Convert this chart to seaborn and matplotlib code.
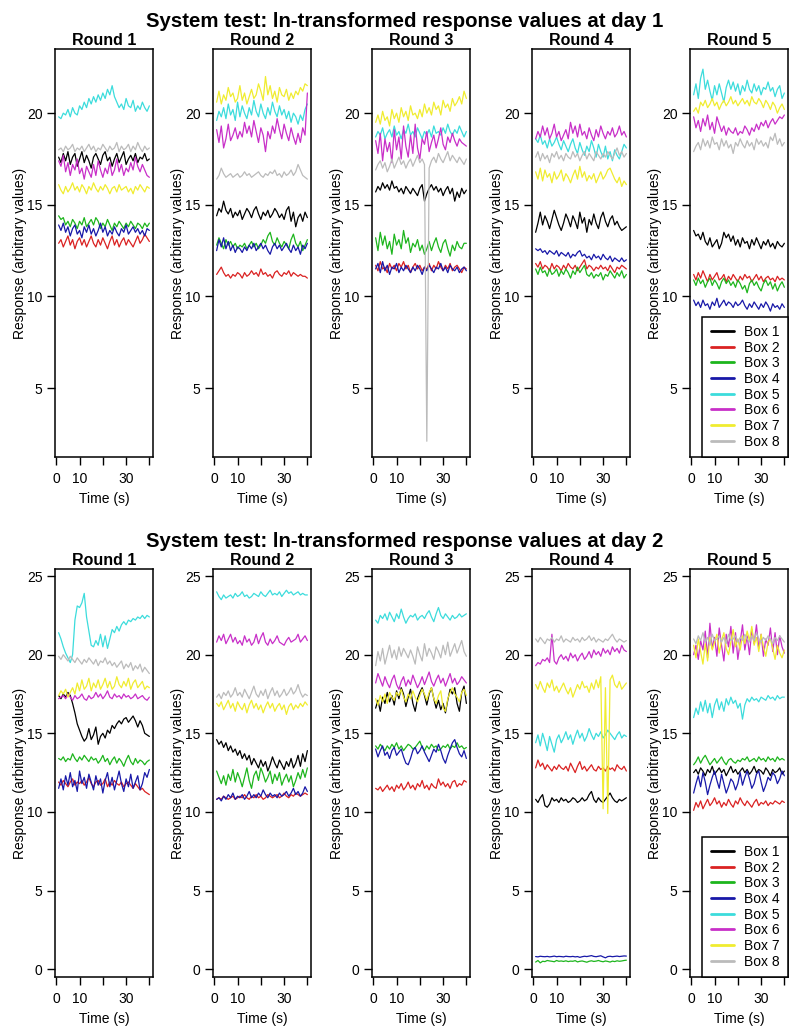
import matplotlib
matplotlib.use("Agg")
import matplotlib.pyplot as plt
from matplotlib.lines import Line2D
import pandas as pd
import seaborn as sns

# ---------------------------------------------------------------- data
time_s = list(range(1, 41))
boxes = [f"Box {i}" for i in range(1, 9)]
rounds = [f"Round {i}" for i in range(1, 6)]
box_colors = ["#000000", "#DA2222", "#1DB51D", "#1818A8",
              "#3CDCDC", "#C82FC8", "#F0EC30", "#BBBBBB"]

# Day 1 -- one list per box (Box 1 ... Box 8), 40 samples each
d1_r1 = [
    [17.6,17.3,17.8,17.4,17.9,17.2,17.6,17.8,17.1,17.5,17.9,17.3,17.7,17.4,17.0,17.6,17.8,17.5,17.2,17.7,
     17.9,17.4,17.6,17.1,17.5,17.8,17.3,17.6,17.9,17.2,17.5,17.7,17.4,17.8,17.3,17.6,17.5,17.8,17.4,17.5],
    [12.9,13.1,12.7,13.0,13.3,12.8,13.1,12.6,13.0,13.2,12.8,13.1,12.7,13.0,13.3,12.9,12.7,13.1,12.8,13.2,
     12.9,12.6,13.0,13.3,12.8,13.1,12.7,13.0,13.2,12.8,13.1,12.9,12.7,13.0,13.3,12.9,13.1,13.4,13.2,13.0],
    [14.4,14.2,14.3,13.9,14.1,13.8,14.2,14.0,13.7,14.1,13.9,14.3,13.8,14.0,14.2,13.9,14.3,14.1,13.7,14.0,
     13.8,14.2,13.9,13.6,14.0,13.8,14.1,13.9,13.7,14.0,13.8,14.1,13.9,13.7,14.0,13.9,13.7,14.0,13.8,14.0],
    [13.9,13.6,14.0,13.5,13.8,13.3,13.7,13.9,13.4,13.6,13.2,13.8,13.5,13.9,13.4,13.7,13.3,13.6,14.0,13.5,
     13.8,13.3,13.6,13.4,13.8,13.5,13.3,13.7,13.5,13.9,13.4,13.6,13.8,13.5,13.7,13.4,13.6,13.3,13.7,13.6],
    [19.8,19.7,20.0,19.9,20.2,19.8,20.3,20.0,19.9,20.4,20.2,20.6,20.3,20.8,20.5,20.9,20.6,21.0,20.7,21.1,
     20.8,21.3,21.0,21.5,20.9,20.6,20.3,20.5,20.2,20.8,20.4,20.3,20.7,20.1,20.4,20.2,20.6,20.3,20.1,20.4],
    [17.4,17.1,17.7,16.8,17.3,16.6,17.2,16.9,17.5,16.7,17.0,16.4,17.1,16.8,16.5,17.2,16.6,17.4,16.9,16.5,
     17.0,16.7,17.3,16.6,16.9,17.5,16.8,17.2,16.6,17.0,16.8,17.3,16.9,17.6,17.1,16.8,17.2,16.9,16.6,16.5],
    [16.1,15.8,15.6,16.0,15.7,15.9,16.2,15.8,16.0,15.7,16.1,15.9,15.6,16.0,15.8,16.2,15.9,15.7,16.0,15.8,
     16.1,15.9,15.6,15.9,16.0,15.7,16.1,15.8,15.9,16.0,15.7,15.9,15.6,16.0,15.8,16.1,15.9,15.7,16.0,15.9],
    [18.0,18.1,17.9,18.2,18.0,18.1,18.3,17.9,18.1,18.0,18.2,17.9,18.1,18.3,18.0,18.2,17.9,18.1,18.0,18.3,
     18.1,17.9,18.2,18.0,18.1,18.4,17.9,18.2,18.0,18.1,18.3,17.9,18.2,18.0,18.4,18.1,17.9,18.2,18.0,18.1],
]
d1_r2 = [
    [14.4,14.8,14.6,15.2,14.7,14.5,14.8,14.3,14.6,14.4,14.7,14.2,14.5,14.8,14.6,14.3,14.7,14.9,14.5,14.2,
     14.6,14.4,14.7,14.3,14.5,14.8,14.6,14.3,14.5,14.2,14.7,14.9,14.1,14.6,13.8,14.3,14.5,14.1,14.6,14.3],
    [11.2,11.4,11.6,11.3,11.1,11.2,11.0,11.2,11.1,11.3,11.2,11.0,11.3,11.1,11.2,11.4,11.2,11.3,11.1,11.5,
     11.2,11.3,11.1,11.2,11.0,11.3,11.4,11.2,11.1,11.3,11.2,11.4,11.1,11.3,11.2,11.1,11.2,11.1,11.1,11.0],
    [12.8,13.2,12.9,12.6,13.1,12.8,13.0,12.7,12.9,12.6,12.8,12.7,12.9,12.6,12.8,13.0,12.7,12.9,12.6,12.8,
     13.1,12.9,13.3,13.5,13.0,12.8,13.2,12.9,12.7,13.0,12.8,12.6,13.1,13.4,12.9,12.7,13.0,12.5,12.8,13.1],
    [12.5,13.1,12.7,13.2,12.6,13.0,12.5,12.8,12.4,12.7,12.6,12.4,12.7,12.5,12.8,12.6,12.9,12.5,12.7,12.9,
     12.6,12.8,12.5,12.3,12.7,12.9,12.6,12.8,12.5,12.7,12.9,12.6,12.4,12.8,12.5,12.7,12.3,12.8,12.6,12.9],
    [19.6,20.1,19.8,20.3,19.7,20.5,19.9,20.2,19.6,20.6,19.8,20.4,20.0,19.7,20.3,19.9,20.7,20.1,19.8,20.5,
     20.0,19.7,20.3,19.9,20.6,20.1,19.8,20.4,19.9,20.2,19.7,20.1,19.5,20.0,19.8,19.4,19.9,19.6,20.2,20.5],
    [19.1,18.4,19.3,18.1,18.6,19.4,18.5,18.8,19.2,18.6,19.0,18.7,19.5,18.9,19.3,18.7,19.6,19.0,18.4,19.2,
     18.8,17.9,19.0,18.6,19.3,18.9,19.7,19.1,18.6,19.4,18.9,18.5,19.2,18.7,18.3,18.9,18.4,19.2,18.8,21.1],
    [20.6,21.2,20.5,21.0,20.7,21.4,20.9,21.1,20.6,20.8,21.5,20.7,21.1,20.5,20.9,21.3,20.8,21.0,21.6,21.2,
     20.7,22.0,21.0,21.5,20.8,21.2,20.6,21.4,21.0,20.9,21.3,20.7,21.1,20.8,21.2,21.0,21.4,21.2,21.6,21.5],
    [16.4,16.6,17.0,16.7,16.5,16.6,16.7,16.5,16.6,16.7,16.5,16.6,16.8,16.6,16.7,16.5,16.6,16.7,16.8,16.6,
     16.5,16.7,16.6,16.8,16.7,16.9,16.6,16.7,16.5,16.8,16.6,16.7,16.9,16.6,16.8,17.2,16.9,16.6,16.5,16.4],
]
d1_r3 = [
    [15.7,16.0,15.8,16.2,15.9,16.1,15.8,16.3,15.9,16.0,15.7,15.9,15.6,16.0,15.8,15.6,15.9,15.7,15.5,15.9,
     16.1,15.2,15.6,15.9,16.1,15.8,16.0,15.7,15.9,15.5,15.8,16.0,15.6,15.9,15.2,15.7,15.4,15.9,15.6,15.8],
    [11.7,11.4,11.9,11.5,11.6,11.3,11.8,11.5,11.7,11.4,11.8,11.6,11.9,11.5,11.7,11.3,11.6,11.8,11.5,11.7,
     11.4,11.6,11.5,11.8,11.4,11.7,11.5,11.9,11.6,11.4,11.7,11.5,11.8,11.4,11.6,11.7,11.5,11.3,11.6,11.5],
    [13.2,12.5,13.5,12.8,13.3,12.6,13.0,12.3,13.4,12.8,13.1,12.6,13.6,12.9,13.2,12.4,12.9,12.7,13.1,12.5,
     12.8,12.3,12.6,13.0,12.5,12.9,13.2,12.7,12.4,12.9,13.1,12.6,12.2,12.8,12.5,13.0,12.7,12.6,12.9,12.9],
    [11.5,11.8,11.3,11.9,11.4,11.7,11.2,11.6,11.5,11.8,11.3,11.6,11.4,11.7,11.5,11.3,11.6,11.4,11.7,11.5,
     11.2,11.6,11.4,11.7,11.5,11.3,11.6,11.5,11.8,11.4,11.6,11.3,11.7,11.5,11.4,11.6,11.3,11.5,11.6,11.4],
    [18.7,19.0,18.8,19.2,18.6,18.9,19.1,18.7,19.3,18.8,19.0,18.6,19.1,18.9,19.4,18.8,19.0,18.7,19.2,18.9,
     18.6,19.0,18.8,19.1,18.7,19.3,18.9,19.0,18.8,19.2,18.9,19.4,19.0,18.8,19.1,18.9,19.3,19.0,18.7,19.0],
    [18.5,17.8,18.9,17.4,18.6,17.9,18.4,17.3,19.1,18.0,18.7,17.5,19.3,18.2,17.6,18.8,17.8,19.4,18.1,17.5,
     18.6,18.3,19.0,17.9,18.4,18.8,18.1,18.6,19.2,18.3,18.0,18.7,18.4,18.9,18.5,18.2,18.6,18.4,18.3,18.2],
    [19.5,19.9,19.4,20.1,19.6,19.8,19.3,20.2,19.7,20.0,19.5,20.3,19.8,20.1,19.6,20.4,19.9,20.0,19.7,20.2,
     19.8,20.5,20.0,20.3,19.9,20.6,20.2,20.4,19.9,20.7,20.3,20.5,20.1,20.8,20.4,20.6,20.9,20.5,21.2,20.8],
    [16.9,17.2,17.4,17.0,17.3,16.8,17.1,17.5,17.0,17.3,17.6,17.2,17.4,17.0,17.3,17.5,17.1,17.4,17.7,17.3,
     17.5,17.2,2.1,17.0,17.4,17.6,17.3,17.8,17.5,17.3,17.6,17.9,17.4,17.7,17.5,17.3,17.6,17.4,17.2,17.5],
]
d1_r4 = [
    [13.5,14.0,14.6,13.9,14.4,14.1,13.7,14.2,14.7,14.3,13.9,13.6,14.0,14.5,14.2,13.8,14.4,14.1,13.7,14.6,
     14.0,14.3,13.5,14.2,13.9,14.5,14.0,13.7,14.3,14.6,14.1,13.8,14.2,14.4,13.9,14.1,13.8,13.6,13.7,13.8],
    [11.8,11.6,11.9,11.5,11.7,11.6,11.4,11.8,11.5,11.7,11.6,11.4,11.7,11.5,11.8,11.6,11.5,11.7,11.4,11.6,
     11.8,12.0,11.5,11.7,11.6,11.4,11.6,11.5,11.7,11.5,11.6,11.4,11.7,11.5,11.3,11.6,11.5,11.7,11.6,11.5],
    [11.5,11.2,11.6,11.3,11.4,11.1,11.5,11.2,11.3,11.5,11.1,11.4,11.2,11.5,11.3,11.0,11.4,11.2,11.6,11.3,
     11.5,11.7,11.2,11.1,11.3,11.0,11.2,11.1,11.3,10.9,11.2,11.1,11.4,11.2,11.0,11.3,11.1,11.4,11.0,11.2],
    [12.6,12.5,12.6,12.4,12.5,12.3,12.5,12.4,12.3,12.5,12.2,12.4,12.3,12.2,12.4,12.1,12.3,12.2,12.4,12.5,
     12.2,12.3,12.1,12.2,12.0,12.3,12.1,12.2,12.0,12.3,12.1,12.0,12.2,11.9,12.1,12.0,11.9,12.1,11.9,12.0],
    [18.6,18.4,18.8,18.3,18.5,18.1,18.6,18.2,18.4,18.7,18.3,18.0,18.5,18.2,17.9,18.3,18.6,18.1,17.8,18.4,
     18.0,17.7,18.2,17.9,18.5,18.1,17.6,18.3,17.9,17.6,18.2,17.5,17.9,17.4,18.0,17.7,17.5,17.9,18.3,18.1],
    [18.6,19.0,18.7,19.3,18.8,19.2,18.6,18.9,19.4,18.7,19.0,18.5,18.8,19.1,18.6,19.5,18.9,19.3,18.7,19.4,
     18.8,19.0,18.6,19.2,18.8,18.5,19.1,18.7,19.3,18.9,18.6,19.0,18.8,19.2,18.7,18.9,19.3,18.8,19.0,18.7],
    [16.8,16.4,17.0,16.3,16.9,16.5,16.7,16.2,16.8,16.4,16.6,16.9,16.3,16.7,16.5,16.2,16.6,16.9,16.4,17.1,
     16.5,16.8,16.3,16.6,16.4,16.7,16.2,16.5,16.8,16.4,16.6,16.9,17.0,16.7,16.4,16.2,16.5,16.0,16.3,16.1],
    [17.6,17.9,17.4,17.8,17.5,17.7,17.3,17.8,17.6,17.9,17.5,17.7,17.4,17.8,17.6,17.5,17.9,17.6,17.8,17.4,
     17.7,17.9,17.5,17.8,17.6,17.4,17.9,17.7,17.5,17.8,17.6,17.9,17.7,17.5,17.8,18.1,17.7,17.9,17.6,17.8],
]
d1_r5 = [
    [13.6,13.3,13.4,13.1,13.5,13.0,12.8,13.2,12.7,12.9,13.1,12.6,12.9,13.5,13.2,13.4,13.0,13.3,12.8,13.1,
     12.7,13.2,12.9,13.0,12.6,13.1,12.8,13.2,12.9,12.6,13.0,12.8,13.1,12.7,12.9,12.6,13.0,12.8,12.7,12.9],
    [11.2,10.9,11.3,11.0,11.4,11.1,10.8,11.2,10.9,11.1,11.3,10.9,11.0,11.2,10.8,11.1,10.9,11.2,11.0,10.8,
     11.1,10.9,11.2,11.0,11.1,10.8,11.0,11.2,10.9,11.1,10.8,11.0,11.1,10.9,11.0,10.8,11.1,10.9,11.0,10.9],
    [10.9,10.6,11.0,10.7,10.9,10.5,10.8,11.0,10.6,10.9,10.7,10.4,10.8,11.0,10.7,10.9,10.6,10.8,10.5,10.9,
     10.7,10.4,10.6,10.2,10.7,10.9,10.6,10.8,10.5,10.3,10.7,10.9,10.6,10.8,10.4,10.7,10.3,10.6,10.8,10.5],
    [9.8,9.5,9.7,9.4,9.8,9.5,9.6,9.3,9.7,9.5,9.9,9.4,9.6,9.8,9.5,9.7,9.6,9.4,9.7,9.5,
     9.6,9.8,9.5,9.3,9.6,9.4,9.7,9.5,9.3,9.6,9.4,9.7,9.5,9.2,9.6,9.4,9.5,9.3,9.6,9.4],
    [21.0,21.6,20.8,21.9,22.4,21.3,21.8,21.2,20.7,21.5,21.0,21.6,21.1,20.6,21.4,21.8,21.3,21.7,21.2,21.6,
     21.0,21.5,21.2,21.8,21.3,21.1,21.6,21.2,21.5,21.0,21.4,21.3,21.7,21.2,21.4,20.9,21.3,21.5,20.8,21.1],
    [19.8,19.2,19.6,19.0,19.7,19.3,19.9,19.1,19.5,18.9,19.8,19.4,19.0,19.3,18.8,19.2,19.0,18.9,19.2,18.8,
     19.0,18.9,19.3,19.1,18.8,19.2,19.0,19.4,19.1,19.5,19.3,19.6,19.2,19.5,19.7,19.4,19.6,19.8,19.7,19.9],
    [20.1,20.3,20.0,20.6,20.4,20.7,20.3,20.5,20.8,20.4,20.6,20.2,20.5,20.7,20.4,20.6,20.9,20.5,20.7,20.4,
     20.6,20.8,20.5,20.7,20.4,20.9,20.6,20.5,20.8,20.6,20.3,20.7,20.5,20.2,20.6,20.4,20.0,20.3,20.5,20.2],
    [17.9,18.2,18.4,18.0,18.6,18.2,18.5,18.1,18.7,18.3,18.4,18.0,18.6,18.2,18.5,18.1,18.3,17.8,18.4,18.2,
     18.6,18.3,18.1,18.5,18.2,18.4,18.0,18.6,18.3,18.5,18.2,18.4,18.1,18.7,18.5,18.9,18.3,18.6,18.2,18.4],
]

# Day 2
d2_r1 = [
    [17.4,17.2,17.5,17.3,17.6,17.4,16.9,16.3,15.6,15.2,14.8,14.5,14.7,15.3,14.6,14.9,15.4,14.3,14.8,15.0,
     14.7,15.2,15.0,15.5,15.3,15.6,15.8,15.6,15.9,16.0,15.7,15.9,16.1,15.8,15.4,15.8,15.5,15.0,14.9,14.8],
    [11.9,11.7,12.0,11.8,11.6,11.9,12.1,11.7,11.9,11.8,12.0,11.7,11.9,12.2,11.8,11.6,11.9,12.0,11.7,11.8,
     12.1,11.6,11.9,11.7,12.0,11.8,11.7,11.9,11.6,11.8,11.9,11.7,11.5,11.8,11.6,11.4,11.5,11.3,11.2,11.1],
    [13.4,13.3,13.5,13.2,13.4,13.3,13.7,13.4,13.2,13.5,13.3,13.6,13.4,13.2,13.5,13.3,13.4,13.1,13.3,13.6,
     13.2,13.4,13.0,13.3,13.5,13.1,13.4,13.2,12.9,13.3,13.6,13.2,13.0,13.4,13.1,13.3,13.2,13.0,13.2,13.3],
    [11.5,12.1,11.4,12.3,11.7,12.5,11.6,12.0,11.3,12.6,11.8,12.2,11.5,12.4,11.9,11.4,12.3,11.7,12.1,11.2,
     12.0,12.5,11.6,12.2,11.4,12.0,12.6,11.8,11.3,12.1,11.6,12.4,11.5,11.9,12.3,11.4,11.8,12.5,12.2,12.7],
    [21.4,21.0,20.5,20.1,19.8,19.5,20.0,22.2,23.1,23.0,23.3,23.9,22.4,21.5,20.6,20.5,20.9,20.6,21.3,20.5,
     21.2,20.4,21.0,21.6,21.4,21.8,21.5,21.9,22.1,21.9,22.2,22.1,22.3,22.2,22.4,22.3,22.5,22.3,22.5,22.4],
    [17.2,17.3,17.4,17.2,17.5,17.3,17.1,17.4,17.2,17.3,17.5,17.2,17.1,17.4,17.2,17.3,17.6,17.3,17.5,17.2,
     17.4,17.7,17.3,17.2,17.5,17.3,17.4,17.2,17.5,17.3,17.4,17.2,17.3,17.5,17.2,17.3,17.4,17.2,17.1,17.3],
    [17.4,17.7,17.5,17.8,17.3,17.6,17.9,17.5,18.2,17.7,18.4,17.8,18.0,18.5,17.7,18.2,17.9,18.4,17.8,18.1,
     18.5,17.9,18.3,17.8,18.0,18.6,18.1,17.9,18.3,18.0,18.5,17.8,18.2,18.4,17.9,18.1,18.3,17.8,18.0,17.9],
    [19.9,19.7,20.0,19.8,19.6,19.9,19.7,19.5,19.8,19.6,19.4,19.7,19.5,19.8,19.6,19.4,19.7,19.3,19.6,19.5,
     19.8,19.4,19.6,19.3,19.5,19.2,19.4,19.6,19.1,19.4,19.2,19.5,19.0,19.3,19.1,19.4,18.9,19.2,19.0,18.8],
]
d2_r2 = [
    [14.6,14.3,14.5,14.1,14.4,13.9,14.2,13.8,14.0,13.6,13.9,13.4,13.7,13.3,13.6,13.0,13.4,13.1,12.8,13.3,
     12.9,13.2,12.6,13.0,13.5,13.1,12.8,13.3,13.0,12.7,13.2,12.9,13.4,12.8,13.1,13.6,12.9,13.7,13.2,13.9],
    [10.8,10.9,10.8,11.0,10.9,10.8,10.9,11.0,10.8,10.9,11.0,10.9,11.1,10.9,10.8,11.0,10.9,11.1,10.9,11.0,
     10.8,10.9,11.1,11.0,10.9,11.0,11.1,10.9,11.0,11.2,11.0,10.9,11.1,11.0,11.2,11.1,11.0,11.1,11.2,11.1],
    [12.6,12.2,11.8,12.3,11.7,12.4,12.0,12.7,11.9,12.5,12.1,11.6,12.2,12.8,12.0,11.5,12.3,12.6,12.0,12.8,
     12.4,11.9,12.2,12.6,11.8,12.4,12.0,12.5,11.7,12.1,12.4,11.9,12.3,11.6,12.0,12.5,12.1,12.7,12.2,12.8],
    [10.8,10.9,10.7,11.0,10.8,11.1,10.9,11.2,10.8,11.0,10.9,11.1,10.8,11.0,11.3,10.9,11.1,10.9,11.2,11.0,
     11.4,11.1,10.9,11.2,11.0,11.1,10.9,11.2,11.0,11.1,11.3,11.0,11.2,11.5,11.1,11.3,11.0,11.2,11.6,11.3],
    [24.0,23.7,23.5,23.8,23.6,23.7,23.8,23.6,23.9,23.7,23.8,24.0,23.7,23.8,23.6,23.7,23.9,23.8,23.7,24.0,
     23.8,23.7,23.9,24.1,23.8,23.9,23.8,24.0,23.7,23.9,24.1,23.9,24.0,23.8,23.9,24.0,23.8,23.9,23.8,23.8],
    [20.8,21.2,20.9,21.3,20.7,21.0,21.3,20.8,21.1,20.7,20.9,20.6,21.2,20.8,21.0,20.6,20.8,21.3,20.7,21.1,
     21.4,20.8,20.6,21.0,20.7,20.9,21.2,20.8,20.7,20.6,20.9,21.1,20.8,20.9,21.0,21.3,20.8,21.0,21.2,20.9],
    [16.9,16.7,17.0,16.5,16.8,17.1,16.6,16.9,16.4,17.0,16.7,16.5,16.9,16.3,16.8,17.1,16.6,16.9,16.5,16.8,
     16.3,16.7,17.0,16.6,16.9,16.4,16.7,16.9,16.5,16.8,16.2,16.7,16.9,16.5,16.8,16.6,16.9,16.7,17.0,16.8],
    [17.3,17.5,17.2,17.6,17.4,17.7,17.3,17.5,17.9,17.4,17.6,17.3,17.8,17.5,17.2,17.6,18.0,17.5,17.3,17.7,
     17.4,17.8,17.2,17.6,17.9,17.4,17.7,17.3,17.5,17.8,17.4,17.6,17.9,17.5,17.7,18.1,17.6,17.3,17.5,17.4],
]
d2_r3 = [
    [16.6,17.1,16.4,17.3,16.9,17.6,17.0,17.4,16.8,17.7,17.2,17.9,17.5,16.7,17.3,17.8,16.9,16.4,17.2,17.6,
     17.9,17.4,16.8,17.5,17.9,17.2,16.6,17.1,16.5,16.9,16.3,17.1,17.8,17.5,17.9,16.9,16.4,17.6,18.0,16.9],
    [11.5,11.4,11.6,11.3,11.5,11.7,11.4,11.6,11.3,11.7,11.5,11.8,11.4,11.6,11.9,11.5,11.7,11.4,11.8,11.6,
     12.0,11.5,11.7,11.4,11.8,11.6,11.5,12.1,11.7,11.9,11.6,11.8,11.5,11.9,12.0,11.6,11.8,11.7,12.0,11.9],
    [14.2,14.0,14.3,14.1,13.9,14.2,14.0,14.3,14.1,14.4,14.0,14.2,13.9,14.1,14.3,14.2,14.0,14.1,14.3,14.5,
     14.1,13.9,14.2,14.0,14.3,14.1,14.2,13.9,14.0,14.2,14.1,14.3,14.0,14.2,14.1,14.4,14.1,14.2,14.0,14.1],
    [14.0,13.5,13.9,14.2,13.6,13.8,13.4,13.9,14.1,13.6,13.8,14.0,13.5,13.1,13.0,13.4,13.9,14.1,13.7,13.9,
     14.2,13.8,13.5,13.2,13.6,14.0,13.8,14.3,13.9,13.4,13.1,13.6,14.0,14.4,14.6,14.1,13.7,13.5,13.9,13.4],
    [22.2,22.0,22.5,22.3,22.6,22.2,22.7,22.4,22.1,22.6,22.3,22.9,22.4,22.0,22.3,22.5,22.4,22.6,22.2,22.4,
     22.5,22.3,22.6,22.8,22.4,22.1,22.6,23.0,22.5,22.3,22.6,22.4,22.2,22.5,22.3,22.4,22.6,22.4,22.5,22.6],
    [18.2,18.8,18.4,18.0,18.6,18.2,17.9,18.4,18.7,18.1,17.8,18.3,18.6,18.0,18.4,18.1,18.7,18.3,17.9,18.2,
     18.6,18.1,18.5,18.9,18.3,18.0,18.4,18.7,18.2,18.5,18.0,18.4,18.8,18.2,18.5,18.1,18.3,18.6,18.4,18.2],
    [17.2,16.8,17.4,17.0,17.5,16.9,17.6,17.3,17.1,17.6,17.4,17.8,17.3,17.0,17.5,17.2,17.7,17.3,17.0,17.4,
     17.8,17.5,17.1,17.6,17.9,17.2,16.9,17.4,17.7,16.6,16.4,17.2,17.6,17.9,17.5,17.3,17.0,17.6,17.8,17.4],
    [19.3,20.2,19.6,20.4,19.4,20.0,20.6,19.8,20.3,19.7,20.5,19.9,20.4,20.1,19.8,20.3,19.9,19.4,20.5,20.0,
     19.6,20.7,19.9,20.4,20.1,19.7,20.5,20.2,19.8,20.6,20.0,20.8,19.9,20.3,20.7,20.1,20.5,20.9,20.2,19.9],
]
d2_r4 = [
    [10.8,10.6,10.9,11.1,10.4,10.3,10.5,10.9,10.7,10.8,10.6,10.9,10.7,10.8,10.6,10.7,10.9,10.8,10.6,10.7,
     10.9,10.7,10.8,11.1,11.3,10.8,10.6,10.9,10.7,10.6,10.8,11.0,11.2,10.9,10.7,10.6,10.8,10.7,10.8,10.9],
    [12.8,13.3,12.9,13.1,12.7,13.0,12.8,12.6,12.9,12.7,13.0,12.8,12.7,12.9,12.6,13.1,12.8,12.5,12.9,13.2,
     12.7,12.9,12.6,12.8,13.0,12.7,12.6,12.9,12.7,12.8,12.6,12.9,12.7,12.8,12.6,13.0,12.8,12.7,12.9,12.6],
    [0.45,0.55,0.40,0.50,0.48,0.55,0.52,0.50,0.47,0.55,0.50,0.52,0.49,0.53,0.48,0.51,0.50,0.54,0.46,0.50,
     0.52,0.48,0.44,0.50,0.53,0.49,0.51,0.55,0.50,0.47,0.52,0.49,0.45,0.51,0.48,0.53,0.50,0.52,0.55,0.57],
    [0.80,0.78,0.82,0.80,0.79,0.81,0.78,0.80,0.83,0.79,0.81,0.80,0.78,0.82,0.80,0.79,0.81,0.78,0.80,0.75,
     0.79,0.82,0.80,0.83,0.86,0.81,0.79,0.82,0.85,0.78,0.72,0.80,0.82,0.79,0.81,0.83,0.80,0.82,0.84,0.83],
    [14.4,14.9,14.2,15.0,14.5,13.9,14.8,14.3,13.8,14.6,14.9,14.4,14.7,15.1,14.6,14.9,14.3,14.8,15.2,14.7,
     15.0,14.5,14.8,15.3,14.9,14.6,15.0,14.8,15.1,14.7,14.9,15.2,15.0,14.8,14.6,14.9,15.1,14.7,14.9,14.8],
    [19.3,19.5,19.4,19.7,19.6,19.8,19.5,21.3,19.6,19.4,19.8,20.0,19.7,19.9,19.6,20.1,19.8,20.0,19.6,19.9,
     20.1,19.7,19.9,20.2,19.8,20.3,20.0,20.2,19.9,20.4,20.1,20.3,20.0,20.5,20.2,20.4,20.1,20.6,20.3,20.2],
    [18.1,17.8,18.3,17.9,17.6,18.2,17.9,18.4,17.7,18.0,17.6,17.9,18.2,17.8,17.5,17.9,17.3,17.7,18.1,17.8,
     18.3,17.9,18.0,17.6,18.2,17.8,18.4,17.9,18.6,10.2,17.9,9.9,18.4,18.7,18.1,17.9,18.3,17.8,18.0,18.2],
    [21.0,20.8,21.1,20.9,20.7,21.0,20.9,21.1,20.8,21.0,20.9,21.2,20.8,21.0,20.9,20.8,21.1,20.9,21.0,20.8,
     21.1,20.9,21.0,21.2,20.9,21.1,20.8,21.0,20.9,20.8,21.0,20.9,21.1,21.3,21.0,20.8,21.0,20.9,20.8,20.9],
]
d2_r5 = [
    [12.5,12.7,12.4,12.8,12.6,12.3,12.7,12.5,12.9,12.4,12.6,12.8,12.5,12.7,12.3,12.6,12.9,12.5,12.7,12.4,
     12.6,12.8,12.5,12.7,12.4,12.6,12.9,12.5,12.7,12.6,12.4,12.8,12.6,12.3,12.7,12.5,12.6,12.8,12.4,12.6],
    [10.1,10.6,10.3,10.7,10.2,10.5,10.8,10.4,10.6,10.9,10.5,10.7,10.3,10.6,10.4,10.8,10.5,10.3,10.7,10.5,
     10.9,10.6,10.4,10.7,10.5,10.3,10.6,10.8,10.4,10.6,10.5,10.7,10.4,10.6,10.5,10.7,10.6,10.5,10.7,10.6],
    [13.0,13.2,13.5,13.1,13.4,13.6,13.3,13.0,13.2,13.4,13.1,13.3,13.5,13.2,13.0,13.3,13.4,13.2,13.1,13.3,
     13.2,13.4,13.3,13.5,13.2,13.3,13.4,13.2,13.5,13.3,13.4,13.2,13.5,13.3,13.4,13.2,13.5,13.3,13.4,13.3],
    [11.2,11.8,12.3,11.6,12.5,11.9,11.1,11.7,12.2,12.6,12.0,11.5,12.4,11.8,11.2,11.6,12.1,11.9,11.4,11.8,
     12.5,11.7,12.2,12.6,12.1,11.5,11.8,12.4,12.6,11.9,11.3,11.7,12.2,12.0,12.5,12.3,11.8,12.1,12.6,12.3],
    [16.0,16.6,16.2,17.0,16.4,17.1,16.3,16.9,16.0,16.8,17.2,16.5,17.0,16.4,17.2,16.8,17.3,16.9,17.1,16.6,
     16.9,15.9,16.8,17.2,17.0,17.3,17.1,17.2,17.0,17.3,17.2,17.1,17.4,17.2,17.3,17.1,17.4,17.2,17.3,17.3],
    [20.0,20.6,19.7,20.9,20.3,21.5,19.8,22.0,20.4,21.1,19.9,21.7,20.6,19.6,21.3,20.5,21.8,20.1,21.4,19.7,
     20.8,21.9,20.3,21.2,20.0,21.6,20.7,21.9,20.4,21.3,19.9,21.0,20.6,21.7,20.2,21.4,20.0,21.2,20.5,20.1],
    [20.6,19.8,21.0,20.2,19.4,20.7,19.6,21.1,20.3,20.8,21.3,20.1,20.9,21.4,20.4,20.0,20.8,21.6,20.5,21.0,
     20.3,21.2,20.7,21.5,20.9,21.8,20.6,21.1,20.2,21.3,20.5,19.9,20.8,21.0,20.4,19.7,20.6,20.1,19.8,20.3],
    [21.0,20.7,21.2,20.9,21.4,20.8,21.1,20.6,21.3,20.9,21.0,21.2,20.8,21.1,20.7,21.3,20.9,21.0,21.2,20.8,
     21.1,20.9,21.3,21.0,20.8,21.2,20.9,21.4,21.0,20.8,21.1,20.9,21.2,21.0,20.7,21.1,20.9,21.2,21.0,20.8],
]

day1_panels = [d1_r1, d1_r2, d1_r3, d1_r4, d1_r5]
day2_panels = [d2_r1, d2_r2, d2_r3, d2_r4, d2_r5]
day1_yticks = [5, 10, 15, 20]
day2_yticks = [0, 5, 10, 15, 20, 25]
x_ticks = [0, 10, 20, 30, 40]
x_tick_labels = ["0", "10", "", "30", ""]


def long_frame(series_by_box):
    rows = []
    for box, values in zip(boxes, series_by_box):
        for t, v in zip(time_s, values):
            rows.append((t, v, box))
    return pd.DataFrame(rows, columns=["Time", "Response", "Box"])


# ---------------------------------------------------------------- style
sns.set_theme(style="ticks")
plt.rcParams["font.family"] = ["Liberation Sans", "DejaVu Sans"]
plt.rcParams["text.color"] = "black"
plt.rcParams["axes.labelcolor"] = "black"
plt.rcParams["axes.edgecolor"] = "black"
plt.rcParams["axes.linewidth"] = 1.1
plt.rcParams["xtick.color"] = "black"
plt.rcParams["ytick.color"] = "black"
plt.rcParams["xtick.labelcolor"] = "black"
plt.rcParams["ytick.labelcolor"] = "black"

W, H = 790, 1027
fig = plt.figure(figsize=(W / 100, H / 100), dpi=100)

col_left_px = [55, 213, 372, 532, 690]
col_w_px = 98
row_specs = [
    # panels, top px, bottom px, ylim, yticks, title, title baseline px
    (day1_panels, 49, 457, (1.24, 23.5), day1_yticks,
     "System test: ln-transformed response values at day 1", 27),
    (day2_panels, 569, 977, (-0.5, 25.45), day2_yticks,
     "System test: ln-transformed response values at day 2", 547),
]

for panels, top_px, bot_px, ylim, yticks, title, title_px in row_specs:
    fig.text(405 / W, 1 - title_px / H, title, ha="center", va="baseline",
             fontsize=14.7, fontweight="bold", color="black")
    for j, (series_by_box, rname) in enumerate(zip(panels, rounds)):
        left = col_left_px[j] / W
        bottom = 1 - bot_px / H
        ax = fig.add_axes([left, bottom, col_w_px / W, (bot_px - top_px) / H])
        df = long_frame(series_by_box)
        sns.lineplot(data=df, x="Time", y="Response", hue="Box",
                     hue_order=boxes, palette=box_colors, estimator=None,
                     sort=False, linewidth=0.9, legend=False, ax=ax)
        ax.set_xlim(-0.56, 41.56)
        ax.set_ylim(*ylim)
        ax.set_xticks(x_ticks)
        ax.set_xticklabels(x_tick_labels)
        ax.set_yticks(yticks)
        ax.set_yticklabels([str(v) for v in yticks])
        ax.tick_params(axis="both", direction="out", length=6, width=1,
                       labelsize=10, pad=3, colors="black")
        ax.tick_params(axis="x", pad=5)
        for sp in ax.spines.values():
            sp.set_visible(True)
            sp.set_color("black")
            sp.set_linewidth(1.1)
        ax.set_xlabel("Time (s)", fontsize=10, labelpad=4, color="black")
        ax.set_ylabel("Response (arbitrary values)", fontsize=10,
                      labelpad=0, color="black")
        fig.text((col_left_px[j] + col_w_px / 2) / W, 1 - (top_px - 4) / H,
                 rname, ha="center", va="baseline", fontsize=11.5,
                 fontweight="bold", color="black")
        if j == 4:
            handles = [Line2D([0], [0], color=c, lw=2) for c in box_colors]
            leg = ax.legend(handles, boxes, loc="lower right",
                            bbox_to_anchor=(1, 0), borderaxespad=0,
                            frameon=True, fancybox=False, fontsize=10,
                            handlelength=1.7, handletextpad=0.7,
                            labelspacing=0.12, borderpad=0.6)
            for txt in leg.get_texts():
                txt.set_color("black")
            leg.get_frame().set_edgecolor("black")
            leg.get_frame().set_linewidth(1.1)
            leg.get_frame().set_alpha(1)

fig.savefig("out.png", dpi=100, facecolor="white")
